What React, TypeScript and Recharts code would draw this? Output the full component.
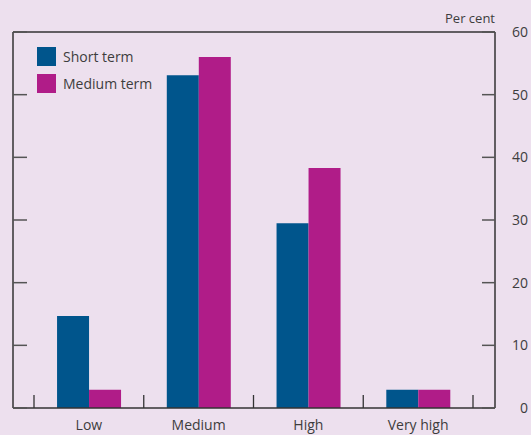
import React from "react";
import { BarChart, Bar, XAxis, YAxis, Legend } from "recharts";

const categories = ["Low", "Medium", "High", "Very high"];
const shortTerm = [14.7, 53.1, 29.5, 2.9];
const mediumTerm = [2.9, 56.0, 38.3, 2.9];
const yTicks = [0, 10, 20, 30, 40, 50, 60];

const seriesInfo = [
  { key: "shortTerm", name: "Short term", color: "#00558c" },
  { key: "mediumTerm", name: "Medium term", color: "#b01c88" }
];

const data = categories.map((name, i) => ({
  name,
  shortTerm: shortTerm[i],
  mediumTerm: mediumTerm[i]
}));

const FONT = "'Open Sans', 'Noto Sans', sans-serif";
const TEXT = "#3d3d3d";
const AXIS = "#333333";
const TICK = "#555555";

// category labels plus the boundary ticks between categories
const CategoryTick = (props: any) => {
  const { x, y, payload } = props;
  const half = payload.offset ?? 55;
  const axisY = y - 12;
  const last = payload.index === categories.length - 1;
  return (
    <g>
      <line x1={x - half} x2={x - half} y1={axisY} y2={axisY - 13} stroke={AXIS} strokeWidth={1.3} />
      {last && (
        <line x1={x + half} x2={x + half} y1={axisY} y2={axisY - 13} stroke={AXIS} strokeWidth={1.3} />
      )}
      <text x={x} y={y + 10} textAnchor="middle" fill={TEXT} fontSize={14} fontFamily={FONT}>
        {payload.value}
      </text>
    </g>
  );
};

const RightTick = (props: any) => {
  const { x, y, payload } = props;
  return (
    <text x={x + 27} y={y + 5} textAnchor="end" fill={TEXT} fontSize={14} fontFamily={FONT}>
      {payload.value}
    </text>
  );
};

const EmptyTick = () => <g />;

const LegendContent = () => (
  <div style={{ fontFamily: FONT, fontSize: 14, color: TEXT }}>
    {seriesInfo.map((s) => (
      <div key={s.key} style={{ display: "flex", alignItems: "center", height: 27 }}>
        <span style={{ width: 19, height: 19, background: s.color, display: "inline-block", marginRight: 7 }} />
        <span>{s.name}</span>
      </div>
    ))}
  </div>
);

const App: React.FC = () => {
  return (
    <div style={{ position: "absolute", left: 0, top: 0, width: 531, height: 435, background: "#ede0ee" }}>
      <div
        style={{
          position: "absolute",
          top: 9,
          right: 36,
          fontFamily: FONT,
          fontSize: 13,
          color: TEXT
        }}
      >
        Per cent
      </div>
      <BarChart
        width={531}
        height={435}
        data={data}
        margin={{ top: 31, right: 0, bottom: 0, left: 12 }}
        barCategoryGap="21%"
        barGap={0}
      >
        <XAxis
          xAxisId="top"
          orientation="top"
          dataKey="name"
          height={1}
          interval={0}
          tick={<EmptyTick />}
          tickLine={false}
          tickSize={0}
          axisLine={{ stroke: AXIS, strokeWidth: 1.5 }}
        />
        <XAxis
          dataKey="name"
          height={27}
          padding={{ left: 21, right: 22 }}
          tickLine={false}
          tickSize={0}
          tickMargin={12}
          axisLine={{ stroke: AXIS, strokeWidth: 1.5 }}
          tick={<CategoryTick />}
          interval={0}
        />
        <YAxis
          yAxisId="left"
          orientation="left"
          width={1}
          domain={[0, 60]}
          ticks={yTicks}
          interval={0}
          tick={<EmptyTick />}
          tickSize={-14}
          tickLine={{ stroke: TICK, strokeWidth: 1.5 }}
          axisLine={{ stroke: AXIS, strokeWidth: 1.5 }}
        />
        <YAxis
          yAxisId="right"
          orientation="right"
          type="number"
          width={36}
          domain={[0, 60]}
          allowDataOverflow
          ticks={yTicks}
          interval={0}
          tickSize={-13}
          tickMargin={19}
          tick={<RightTick />}
          tickLine={{ stroke: TICK, strokeWidth: 1.5 }}
          axisLine={{ stroke: AXIS, strokeWidth: 1.5 }}
        />
        <Legend
          layout="vertical"
          align="center"
          verticalAlign="middle"
          wrapperStyle={{ left: 37, top: 43, width: "auto" }}
          content={<LegendContent />}
        />
        {seriesInfo.map((s) => (
          <Bar
            key={s.key}
            yAxisId="left"
            dataKey={s.key}
            name={s.name}
            fill={s.color}
            isAnimationActive={false}
          />
        ))}
      </BarChart>
    </div>
  );
};

export default App;
